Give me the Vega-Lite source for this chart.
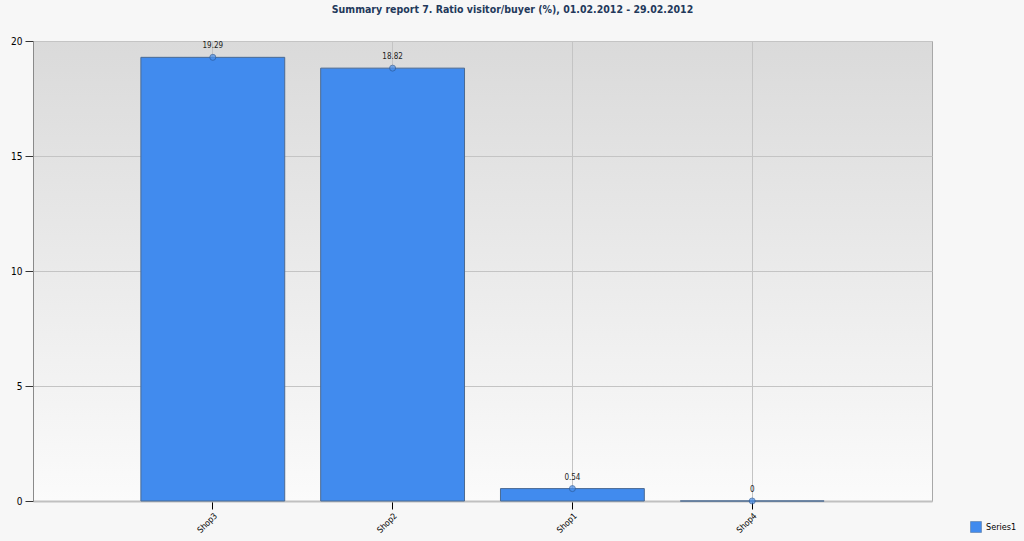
{
  "$schema": "https://vega.github.io/schema/vega-lite/v6.json",
  "autosize": "none",
  "width": 899,
  "height": 460,
  "padding": {"left": 33, "top": 41, "right": 92, "bottom": 40},
  "background": "#f7f7f7",
  "title": {
    "text": "Summary report 7. Ratio visitor/buyer (%), 01.02.2012 - 29.02.2012",
    "font": "DejaVu Sans Condensed",
    "fontSize": 10.5,
    "fontWeight": "bold",
    "color": "#23395b",
    "anchor": "middle",
    "dx": 30,
    "offset": 21
  },
  "view": {
    "stroke": "#a8a8a8",
    "strokeWidth": 1,
    "fill": {
      "gradient": "linear",
      "x1": 0, "y1": 0, "x2": 0, "y2": 1,
      "stops": [
        {"offset": 0, "color": "#dadada"},
        {"offset": 1, "color": "#fbfbfb"}
      ]
    }
  },
  "data": {
    "values": [
      {"shop": "Shop3", "value": 19.29, "label": "19.29", "series": "Series1"},
      {"shop": "Shop2", "value": 18.82, "label": "18.82", "series": "Series1"},
      {"shop": "Shop1", "value": 0.54, "label": "0.54", "series": "Series1"},
      {"shop": "Shop4", "value": 0, "label": "0", "series": "Series1"}
    ]
  },
  "encoding": {
    "x": {
      "field": "shop",
      "type": "nominal",
      "sort": null,
      "scale": {"paddingInner": 0.2, "paddingOuter": 0.6},
      "axis": {
        "title": null,
        "labelAngle": -45,
        "labelFont": "DejaVu Sans Condensed",
        "labelFontSize": 8.5,
        "labelColor": "#000000",
        "grid": true,
        "gridColor": "#c4c4c4",
        "domainColor": "#c0c0c0",
        "domainWidth": 2,
        "tickColor": "#000000",
        "tickSize": 8,
        "labelPadding": 2
      }
    },
    "y": {
      "field": "value",
      "type": "quantitative",
      "scale": {"domain": [0, 20], "nice": false},
      "axis": {
        "title": null,
        "values": [0, 5, 10, 15, 20],
        "labelFont": "DejaVu Sans Condensed",
        "labelFontSize": 10,
        "labelColor": "#000000",
        "grid": true,
        "gridColor": "#c4c4c4",
        "domainColor": "#8a8a8a",
        "tickColor": "#333333",
        "tickSize": 8,
        "labelPadding": 3
      }
    }
  },
  "layer": [
    {
      "mark": {"type": "bar", "stroke": "#4b6a92", "strokeWidth": 1},
      "encoding": {
        "color": {
          "field": "series",
          "type": "nominal",
          "scale": {"range": ["#418bee"]},
          "legend": {
            "title": null,
            "orient": "none",
            "legendX": 937,
            "legendY": 480,
            "symbolType": "square",
            "symbolSize": 120,
            "symbolStrokeColor": "#4b6a92",
            "symbolStrokeWidth": 0.5,
            "labelFont": "DejaVu Sans Condensed",
            "labelFontSize": 9,
            "labelColor": "#000000"
          }
        }
      }
    },
    {
      "mark": {"type": "point", "filled": true, "size": 36, "color": "#4a90ec", "stroke": "#2b5a9a", "strokeWidth": 1}
    },
    {
      "mark": {"type": "text", "dy": -11, "font": "DejaVu Sans Condensed", "fontSize": 8, "color": "#222222"},
      "encoding": {"text": {"field": "label"}}
    }
  ]
}
